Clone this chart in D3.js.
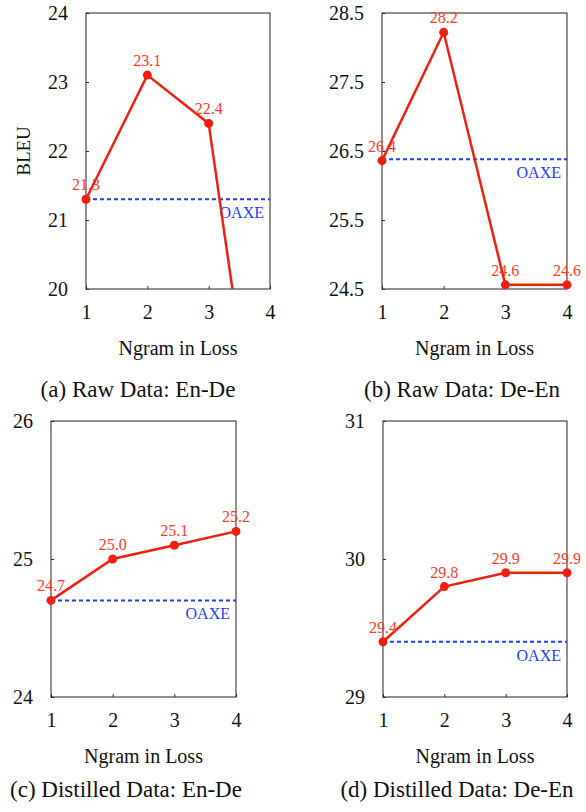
<!DOCTYPE html>
<html>
<head>
<meta charset="utf-8">
<script src="https://cdn.jsdelivr.net/npm/d3@7"></script>
<style>
  body { margin: 0; background: #fff; }
  svg text { font-family: "Liberation Serif", "Times New Roman", serif; }
</style>
</head>
<body>
<div id="chart"></div>
<script>
// Data
const ngrams = [1, 2, 3, 4];
const rawEnDe = [21.3, 23.1, 22.4, 16.2];   // 4th point falls below the axis
const rawDeEn = [26.36, 28.22, 24.56, 24.56];
const distEnDe = [24.7, 25.0, 25.1, 25.2];
const distDeEn = [29.4, 29.8, 29.9, 29.9];
const oaxeScores = [21.3, 26.38, 24.7, 29.4];
const yDomains = [[20, 24], [24.5, 28.5], [24, 26], [29, 31]];
const yTickValues = [
  [20, 21, 22, 23, 24],
  [24.5, 25.5, 26.5, 27.5, 28.5],
  [24, 25, 26],
  [29, 30, 31]
];
const captions = [
  '(a) Raw Data: En-De',
  '(b) Raw Data: De-En',
  '(c) Distilled Data: En-De',
  '(d) Distilled Data: De-En'
];
const series = [rawEnDe, rawDeEn, distEnDe, distDeEn];

// Panel boxes (pixels)
const boxes = [
  {x0: 86, x1: 270, y0: 13, y1: 289, cap: 138, capY: 397},
  {x0: 382, x1: 567, y0: 13, y1: 289, cap: 462, capY: 397},
  {x0: 51, x1: 236, y0: 421, y1: 697, cap: 126, capY: 797},
  {x0: 383, x1: 567, y0: 421, y1: 697, cap: 457, capY: 797}
];

const red = '#f0200f';
const labelRed = '#ff3b26';
const blue = '#1f3dff';

const svg = d3.select('#chart').append('svg')
  .attr('width', 586)
  .attr('height', 812);

boxes.forEach((b, i) => {
  const w = b.x1 - b.x0, h = b.y1 - b.y0;
  const g = svg.append('g').attr('transform', 'translate(' + b.x0 + ',' + b.y0 + ')');

  const x = d3.scaleLinear().domain([1, 4]).range([0, w]);
  const y = d3.scaleLinear().domain(yDomains[i]).range([h, 0]);

  // clip
  g.append('clipPath').attr('id', 'clip' + i)
    .append('rect').attr('x', -20).attr('y', -20).attr('width', w + 40).attr('height', h + 20);

  // Y axis
  g.append('g')
    .call(d3.axisLeft(y)
      .tickValues(yTickValues[i])
      .tickSize(-3)
      .tickPadding(18)
      .tickFormat(d => Number.isInteger(d) ? d : d.toFixed(1)))
    .call(a => a.select('.domain').remove())
    .call(a => a.selectAll('line').attr('stroke', '#333'))
    .selectAll('text')
      .attr('font-size', 20)
      .attr('fill', '#111');

  // X axis
  g.append('g')
    .attr('transform', 'translate(0,' + h + ')')
    .call(d3.axisBottom(x)
      .tickValues(ngrams)
      .tickSize(-3)
      .tickPadding(16)
      .tickFormat(d3.format('d')))
    .call(a => a.select('.domain').remove())
    .call(a => a.selectAll('line').attr('stroke', '#333'))
    .selectAll('text')
      .attr('font-size', 20)
      .attr('fill', '#111');

  // frame
  g.append('rect')
    .attr('width', w).attr('height', h)
    .attr('fill', 'none')
    .attr('stroke', '#222')
    .attr('stroke-width', 1);

  // OAXE baseline
  g.append('line')
    .attr('x1', 0).attr('x2', w)
    .attr('y1', y(oaxeScores[i])).attr('y2', y(oaxeScores[i]))
    .attr('stroke', blue)
    .attr('stroke-width', 2)
    .attr('stroke-dasharray', '4,3');
  g.append('text')
    .attr('x', w - 6)
    .attr('y', y(oaxeScores[i]) + 19)
    .attr('text-anchor', 'end')
    .attr('font-size', 16)
    .attr('fill', blue)
    .text('OAXE');

  // series
  const pts = ngrams.map((n, j) => ({n: n, v: series[i][j]}));
  const plot = g.append('g').attr('clip-path', 'url(#clip' + i + ')');
  plot.append('path')
    .datum(pts)
    .attr('fill', 'none')
    .attr('stroke', red)
    .attr('stroke-width', 2.5)
    .attr('d', d3.line().x(d => x(d.n)).y(d => y(d.v)));
  plot.selectAll('circle')
    .data(pts.filter(d => d.v >= yDomains[i][0]))
    .enter().append('circle')
      .attr('cx', d => x(d.n))
      .attr('cy', d => y(d.v))
      .attr('r', 4.5)
      .attr('fill', red);
  g.selectAll('.val')
    .data(pts.filter(d => d.v >= yDomains[i][0]))
    .enter().append('text')
      .attr('class', 'val')
      .attr('x', d => x(d.n))
      .attr('y', d => y(d.v) - 9)
      .attr('text-anchor', 'middle')
      .attr('font-size', 16)
      .attr('fill', labelRed)
      .text(d => d.v.toFixed(1));

  // x title
  svg.append('text')
    .attr('x', (b.x0 + b.x1) / 2)
    .attr('y', b.y1 + 66)
    .attr('text-anchor', 'middle')
    .attr('font-size', 20)
    .attr('fill', '#111')
    .text('Ngram in Loss');

  // caption
  svg.append('text')
    .attr('x', b.cap)
    .attr('y', b.capY)
    .attr('text-anchor', 'middle')
    .attr('font-size', 23)
    .attr('fill', '#111')
    .text(captions[i]);
});

// y title, first panel only
svg.append('text')
  .attr('transform', 'translate(30,' + ((boxes[0].y0 + boxes[0].y1) / 2) + ') rotate(-90)')
  .attr('text-anchor', 'middle')
  .attr('font-size', 19)
  .attr('fill', '#111')
  .text('BLEU');
</script>
</body>
</html>
